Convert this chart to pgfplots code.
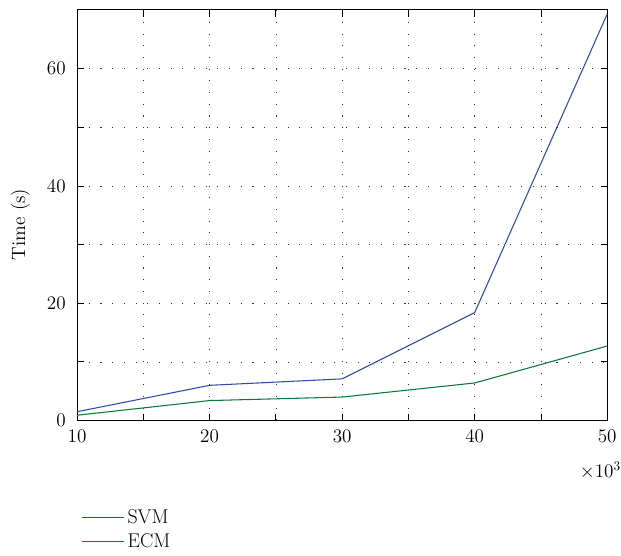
\documentclass[border=0pt]{standalone}
\usepackage{pgfplots}
\pgfplotsset{compat=1.18}
\definecolor{svmblue}{RGB}{45,75,170}
\definecolor{ecmgreen}{RGB}{10,120,55}
\begin{document}
\begin{tikzpicture}
\begin{axis}[
  scale only axis,
  width=399pt, height=309pt,
  xmin=10, xmax=50, ymin=0, ymax=70,
  xtick={10,20,30,40,50},
  ytick={0,20,40,60},
  minor x tick num=1, minor y tick num=1,
  grid=both,
  major grid style={black!80, dash pattern=on 0.8pt off 8pt},
  minor grid style={black!80, dash pattern=on 0.8pt off 8pt},
  tick align=inside,
  axis line style={black, line width=0.8pt},
  major tick length=5pt, minor tick length=5pt,
  tick style={black, line width=0.6pt},
  ticklabel style={font=\fontsize{15}{18}\selectfont},
  xticklabel style={yshift=-4pt},
  yticklabel style={xshift=-5pt},
  label style={font=\fontsize{14.5}{17}\selectfont},
  ylabel={Time (s)},
  ylabel style={yshift=6pt, xshift=-7pt},
  legend style={at={(0,-0.203)}, anchor=north west, draw=none,
    font=\fontsize{15}{18}\selectfont, row sep=2.5pt},
  legend image code/.code={\draw[#1, line width=0.8pt] (0pt,0pt) -- (23pt,0pt); \path (0pt,0pt) -- (32pt,0pt);},
  legend cell align=left,
  clip=false,
]
\addplot[color=svmblue, line width=0.8pt] coordinates {(10,1.5) (20,6.0) (30,7.1) (40,18.4) (50,69.3)};
\addlegendentry{SVM}
\addplot[color=ecmgreen, line width=0.8pt] coordinates {(10,0.9) (20,3.4) (30,4.0) (40,6.4) (50,12.7)};
\addlegendentry{ECM}
\node[anchor=north east, font=\fontsize{14.5}{17}\selectfont, inner sep=0pt] at (rel axis cs:1,0) [yshift=-31pt, xshift=10.5pt] {$\times 10^3$};
\path (rel axis cs:0,1) ++(0pt,7.5pt);
\path (rel axis cs:0,0.5) ++(-58pt,0pt);
\end{axis}
\end{tikzpicture}
\end{document}
